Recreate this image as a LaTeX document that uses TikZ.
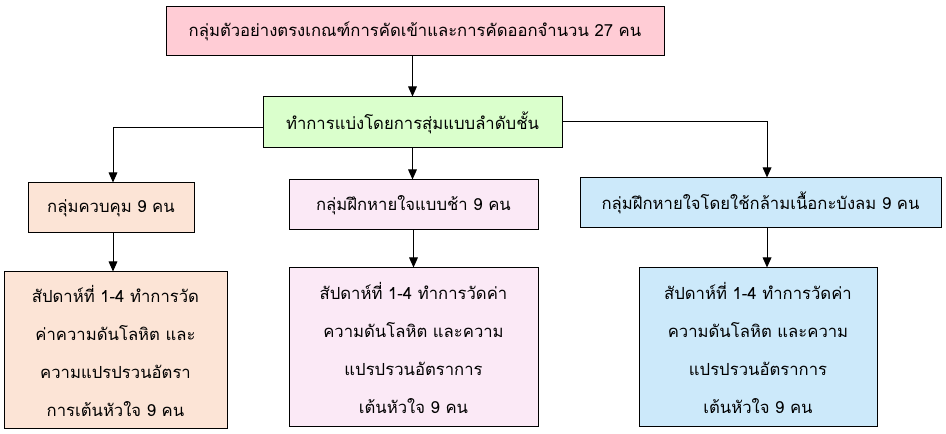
\documentclass[tikz,border=0pt]{standalone}
\usepackage{fontspec}
\newfontfamily\thaifont[Script=Thai]{Loma}
\usetikzlibrary{arrows.meta}
\definecolor{toppink}{RGB}{255,204,213}
\definecolor{stepgreen}{RGB}{218,255,204}
\definecolor{ctrlpeach}{RGB}{252,228,214}
\definecolor{slowpink}{RGB}{251,233,246}
\definecolor{diablue}{RGB}{204,233,250}
\tikzset{
  box/.style={draw,line width=0.75pt,inner sep=0pt,align=center,
    font={\thaifont\fontsize{12.5pt}{28.5pt}\selectfont}},
  arr/.style={-{Triangle[width=6.5pt,length=7.5pt]},line width=0.75pt}
}

\begin{document}
\begin{tikzpicture}[x=0.75pt,y=-0.75pt]
            \useasboundingbox[fill=white] (0,0) rectangle (946,434);

            \node[box,fill=toppink,minimum width=373.5pt,minimum height=36.75pt] (top) at (415,31.5)
                {กลุ่มตัวอย่างตรงเกณฑ์การคัดเข้าและการคัดออกจำนวน 27 คน};
            \node[box,fill=stepgreen,minimum width=224.25pt,minimum height=38.25pt] (split) at (412.5,122.5)
                {ทำการแบ่งโดยการสุ่มแบบลำดับชั้น};

            \node[box,fill=ctrlpeach,minimum width=124.5pt,minimum height=37.5pt] (ctrl) at (111,208)
                {กลุ่มควบคุม 9 คน};
            \node[box,fill=slowpink,minimum width=186.75pt,minimum height=37.5pt] (slow) at (413.5,205)
                {กลุ่มฝึกหายใจแบบช้า 9 คน};
            \node[box,fill=diablue,minimum width=270.75pt,minimum height=37.5pt] (dia) at (760.5,203)
                {กลุ่มฝึกหายใจโดยใช้กล้ามเนื้อกะบังลม 9 คน};

            \node[box,fill=ctrlpeach,minimum width=167.25pt,minimum height=117.75pt] (ctrlweek) at (115.5,350.5)
                {สัปดาห์ที่ 1-4 ทำการวัด\\ค่าความดันโลหิต และ\\ความแปรปรวนอัตรา\\การเต้นหัวใจ 9 คน};
            \node[box,fill=slowpink,minimum width=186.75pt,minimum height=119.25pt] (slowweek) at (413.5,347.5)
                {สัปดาห์ที่ 1-4 ทำการวัดค่า\\ความดันโลหิต และความ\\แปรปรวนอัตราการ\\เต้นหัวใจ 9 คน};
            \node[box,fill=diablue,minimum width=178.5pt,minimum height=119.25pt] (diaweek) at (758,347.5)
                {สัปดาห์ที่ 1-4 ทำการวัดค่า\\ความดันโลหิต และความ\\แปรปรวนอัตราการ\\เต้นหัวใจ 9 คน};

            \draw[arr] (top.south -| split.north) -- (split.north);
            \draw[arr] ([yshift=-3.4pt]split.west) -| ([xshift=1.5pt]ctrl.north);
            \draw[arr] (split.south) -- (split.south |- slow.north);
            \draw[arr] ([yshift=0.4pt]split.east) -| ([xshift=4.9pt]dia.north);

            \draw[arr] ([xshift=1.5pt]ctrl.south) -- ([xshift=1.5pt]ctrl.south |- ctrlweek.north);
            \draw[arr] (slow.south) -- (slowweek.north);
            \draw[arr] ([xshift=4.9pt]dia.south) -- ([xshift=4.9pt]dia.south |- diaweek.north);
        \end{tikzpicture}
\end{document}
